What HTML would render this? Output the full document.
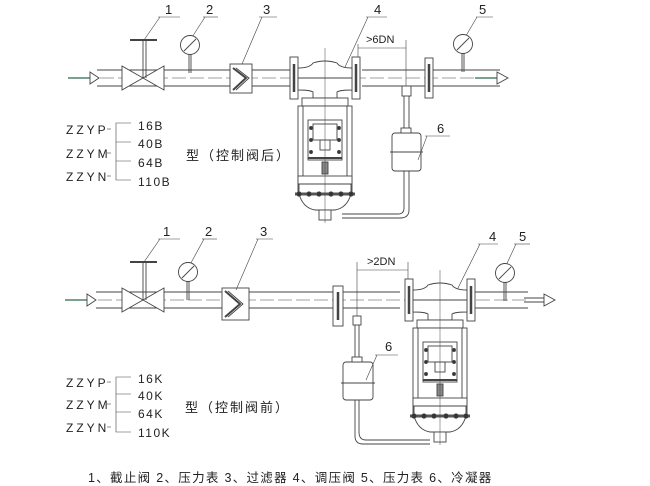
<!DOCTYPE html>
<html><head><meta charset="utf-8"><style>
html,body{margin:0;padding:0;background:#fff;}
svg{display:block;}
text{font-family:"Liberation Sans","Noto Sans CJK SC",sans-serif;fill:#222;}
</style></head><body>
<svg width="650" height="486" viewBox="0 0 650 486" xmlns="http://www.w3.org/2000/svg">
<defs>
<g id="valve" fill="none" stroke="#444" stroke-width="0.9">
  <rect x="-35" y="-21" width="8" height="42" fill="#fff"/>
  <line x1="-31" y1="-14" x2="-31" y2="14" stroke-width="2.5"/>
  <rect x="27" y="-21" width="8" height="42" fill="#fff"/>
  <line x1="31" y1="-14" x2="31" y2="14" stroke-width="2.5"/>
  <path d="M-27,-10 Q-15,-10 -12,-15 Q0,-19 12,-15 Q15,-10 27,-10 L27,12 Q15,12 12,14 L12,20 L-12,20 L-12,14 Q-15,12 -27,12 Z" fill="#fff"/>
  <line x1="-27" y1="0" x2="27" y2="0"/>
  <rect x="-23" y="20" width="46" height="8" fill="#fff"/>
  <rect x="-27" y="28" width="54" height="86" fill="#fff"/>
  <line x1="-22" y1="28" x2="-22" y2="114"/><line x1="22" y1="28" x2="22" y2="114"/>
  <rect x="-17" y="42" width="34" height="40"/>
  <rect x="-12" y="46" width="24" height="16"/>
  <rect x="-5" y="62" width="10" height="10"/>
  <line x1="-17" y1="80" x2="17" y2="80" stroke-width="2"/>
  <circle cx="-14" cy="50" r="1.5" fill="#333"/><circle cx="14" cy="50" r="1.5" fill="#333"/>
  <circle cx="-14" cy="62" r="1.5" fill="#333"/><circle cx="14" cy="62" r="1.5" fill="#333"/>
  <circle cx="-14" cy="74" r="1.5" fill="#333"/><circle cx="14" cy="74" r="1.5" fill="#333"/>
  <rect x="-3" y="84" width="6" height="12" fill="#888"/>
  <rect x="-27" y="98" width="54" height="8" fill="#fff"/>
  <path d="M-26,106 L26,106 L26,116 Q22,130 10,132 L-10,132 Q-22,130 -26,116 Z" fill="#fff"/>
  <line x1="-30" y1="116" x2="30" y2="116" stroke-width="3" stroke="#555"/>
  <circle cx="-26" cy="116" r="2.2" fill="#333"/><circle cx="-16" cy="116" r="2.2" fill="#333"/><circle cx="-6" cy="116" r="2.2" fill="#333"/>
  <circle cx="6" cy="116" r="2.2" fill="#333"/><circle cx="16" cy="116" r="2.2" fill="#333"/><circle cx="26" cy="116" r="2.2" fill="#333"/>
  <rect x="-6" y="132" width="12" height="10" fill="#fff"/>
  <line x1="0" y1="-30" x2="0" y2="145" stroke-width="0.5"/>
</g>
<g id="gatev" fill="none" stroke="#444" stroke-width="0.9">
  <path d="M-21,-12 L21,12 L21,-12 L-21,12 Z" fill="#fff"/>
  <line x1="0" y1="0" x2="0" y2="-38"/><line x1="3" y1="0" x2="3" y2="-38"/>
  <line x1="-13" y1="-38" x2="14" y2="-38" stroke-width="2"/>
</g>
<g id="gauge" fill="none" stroke="#444" stroke-width="0.9">
  <circle cx="0" cy="0" r="9.5" fill="#fff"/>
  <line x1="-6" y1="6" x2="6" y2="-6"/>
  <line x1="-1" y1="9.5" x2="-1" y2="28"/><line x1="1" y1="9.5" x2="1" y2="28"/>
</g>
</defs>

<!-- TOP -->
<g stroke="#444" stroke-width="0.9" fill="none">
  <line x1="68" y1="78" x2="90" y2="78" stroke="#2a6a4a" stroke-width="1.3"/>
  <path d="M90,72 L99,78 L90,84 Z" fill="#fff"/>
  <line x1="97" y1="70" x2="290" y2="70"/><line x1="97" y1="86" x2="290" y2="86"/>
  <line x1="362" y1="70" x2="500" y2="70"/><line x1="362" y1="86" x2="500" y2="86"/>
  <line x1="100" y1="78" x2="500" y2="78" stroke-dasharray="14,4" stroke-width="0.6"/>
  <line x1="475" y1="78" x2="497" y2="78" stroke="#2a6a4a" stroke-width="1.3"/>
  <path d="M497,72 L508,78 L497,84 Z" fill="#fff"/>
  <rect x="230" y="64" width="22" height="29" fill="#fff"/>
  <path d="M233,68 L246,78 L233,90" stroke-width="2"/>
  <path d="M236,68 L249,78 L236,90"/>
  <rect x="425" y="58" width="8" height="40" fill="#fff"/>
  <line x1="429" y1="64" x2="429" y2="92" stroke-width="2.5"/>
  <rect x="402" y="86" width="9" height="10" fill="#fff"/>
  <path d="M404,96 L404,208 Q404,214 398,214 L342,214" />
  <path d="M409,96 L409,210 Q409,218 400,218 L342,218" />
  <rect x="392" y="133" width="29" height="38" rx="3" fill="#fff"/>
  <line x1="390" y1="152" x2="423" y2="152"/>
  <rect x="401" y="128" width="10" height="5" fill="#fff"/>
  <line x1="358" y1="44" x2="358" y2="66" stroke-width="0.6"/>
  <line x1="406" y1="40" x2="406" y2="86" stroke-width="0.6"/>
  <line x1="358" y1="48" x2="406" y2="48" stroke-width="0.6"/>
  <line x1="144" y1="40" x2="160" y2="17" stroke-width="0.6"/><line x1="158" y1="17" x2="180" y2="17" stroke-width="0.6"/>
  <line x1="187" y1="45" x2="205" y2="17" stroke-width="0.6"/><line x1="203" y1="17" x2="218" y2="17" stroke-width="0.6"/>
  <line x1="242" y1="64" x2="262" y2="17" stroke-width="0.6"/><line x1="259" y1="17" x2="277" y2="17" stroke-width="0.6"/>
  <line x1="340" y1="78" x2="368" y2="17" stroke-width="0.6"/><line x1="366" y1="17" x2="387" y2="17" stroke-width="0.6"/>
  <line x1="460" y1="46" x2="477" y2="17" stroke-width="0.6"/><line x1="476" y1="17" x2="493" y2="17" stroke-width="0.6"/>
  <line x1="418" y1="160" x2="427" y2="136" stroke-width="0.6"/><line x1="425" y1="136" x2="450" y2="136" stroke-width="0.6"/>
  <path d="M131,123 L116,123 L116,180 L131,180 M116,142 L131,142 M116,161 L131,161" stroke-width="0.6"/>
  <line x1="107" y1="129" x2="111" y2="129" stroke-width="0.6"/>
  <line x1="107" y1="153" x2="111" y2="153" stroke-width="0.6"/>
  <line x1="107" y1="176" x2="111" y2="176" stroke-width="0.6"/>
</g>
<use href="#gatev" x="143" y="78"/>
<use href="#gauge" x="190" y="45"/>
<use href="#gauge" x="463" y="44"/>
<use href="#valve" x="325" y="78"/>
<g font-size="13">
<text x="165" y="14">1</text><text x="206" y="14">2</text><text x="263" y="14">3</text>
<text x="374" y="14">4</text><text x="479" y="14">5</text><text x="437" y="133">6</text>
<text x="366" y="43" font-size="11">&gt;6DN</text>
</g>
<g font-size="12" letter-spacing="3">
<text x="66" y="134">ZZYP</text><text x="66" y="158">ZZYM</text><text x="66" y="181">ZZYN</text>
</g>
<g font-size="12" letter-spacing="1.5">
<text x="138" y="130">16B</text><text x="138" y="148">40B</text><text x="138" y="167">64B</text><text x="138" y="186">110B</text>
</g>
<text x="186" y="160" font-size="13" letter-spacing="2">型（控制阀后）</text>

<!-- BOTTOM -->
<g stroke="#444" stroke-width="0.9" fill="none">
  <line x1="65" y1="300" x2="88" y2="300" stroke="#2a6a4a" stroke-width="1.3"/>
  <path d="M87,294 L96,300 L87,306 Z" fill="#fff"/>
  <line x1="96" y1="292" x2="333" y2="292"/><line x1="96" y1="308" x2="333" y2="308"/>
  <line x1="343" y1="292" x2="400" y2="292"/><line x1="343" y1="308" x2="400" y2="308"/>
  <line x1="475" y1="292" x2="528" y2="292"/><line x1="475" y1="308" x2="528" y2="308"/>
  <line x1="98" y1="300" x2="528" y2="300" stroke-dasharray="14,4" stroke-width="0.6"/>
  <line x1="524" y1="298" x2="545" y2="298"/><line x1="524" y1="302" x2="545" y2="302"/>
  <path d="M544,294 L555,300 L544,306 Z" fill="#fff"/>
  <rect x="222" y="288" width="27" height="32" fill="#fff"/>
  <path d="M225,291 L240,304 L225,317" stroke-width="2"/>
  <path d="M228,291 L243,304 L228,317"/>
  <rect x="333" y="286" width="10" height="40" fill="#fff"/>
  <line x1="338" y1="292" x2="338" y2="320" stroke-width="2.5"/>
  <rect x="353" y="316" width="8" height="9" fill="#fff"/>
  <path d="M355,325 L355,436 Q355,444 363,444 L430,444"/>
  <path d="M359,325 L359,432 Q359,440 366,440 L430,440"/>
  <rect x="343" y="362" width="30" height="38" rx="3" fill="#fff"/>
  <line x1="341" y1="383" x2="375" y2="383"/>
  <rect x="352" y="357" width="10" height="5" fill="#fff"/>
  <line x1="357" y1="262" x2="357" y2="316" stroke-width="0.6"/>
  <line x1="408" y1="262" x2="408" y2="285" stroke-width="0.6"/>
  <line x1="357" y1="270" x2="408" y2="270" stroke-width="0.6"/>
  <line x1="144" y1="262" x2="160" y2="239" stroke-width="0.6"/><line x1="158" y1="239" x2="180" y2="239" stroke-width="0.6"/>
  <line x1="186" y1="272" x2="204" y2="239" stroke-width="0.6"/><line x1="202" y1="239" x2="217" y2="239" stroke-width="0.6"/>
  <line x1="236" y1="290" x2="258" y2="239" stroke-width="0.6"/><line x1="256" y1="239" x2="273" y2="239" stroke-width="0.6"/>
  <line x1="452" y1="300" x2="480" y2="244" stroke-width="0.6"/><line x1="478" y1="244" x2="498" y2="244" stroke-width="0.6"/>
  <line x1="503" y1="272" x2="516" y2="244" stroke-width="0.6"/><line x1="514" y1="244" x2="530" y2="244" stroke-width="0.6"/>
  <line x1="366" y1="380" x2="377" y2="355" stroke-width="0.6"/><line x1="375" y1="355" x2="398" y2="355" stroke-width="0.6"/>
  <path d="M131,377 L116,377 L116,432 L131,432 M116,394 L131,394 M116,412 L131,412" stroke-width="0.6"/>
  <line x1="107" y1="382" x2="111" y2="382" stroke-width="0.6"/>
  <line x1="107" y1="404" x2="111" y2="404" stroke-width="0.6"/>
  <line x1="107" y1="427" x2="111" y2="427" stroke-width="0.6"/>
</g>
<use href="#gatev" x="143" y="300"/>
<use href="#gauge" x="188" y="272"/>
<use href="#gauge" x="505" y="273"/>
<use href="#valve" x="440" y="300"/>
<g font-size="13">
<text x="163" y="236">1</text><text x="205" y="236">2</text><text x="260" y="236">3</text>
<text x="489" y="241">4</text><text x="519" y="241">5</text><text x="385" y="351">6</text>
<text x="367" y="265" font-size="11">&gt;2DN</text>
</g>
<g font-size="12" letter-spacing="3">
<text x="66" y="387">ZZYP</text><text x="66" y="409">ZZYM</text><text x="66" y="432">ZZYN</text>
</g>
<g font-size="12" letter-spacing="1.5">
<text x="138" y="383">16K</text><text x="138" y="400">40K</text><text x="138" y="418">64K</text><text x="138" y="437">110K</text>
</g>
<text x="185" y="412" font-size="13" letter-spacing="2">型（控制阀前）</text>

<text x="88" y="482" font-size="12.5" letter-spacing="1.3">1、截止阀 2、压力表 3、过滤器 4、调压阀 5、压力表 6、冷凝器</text>
</svg>
</body></html>
